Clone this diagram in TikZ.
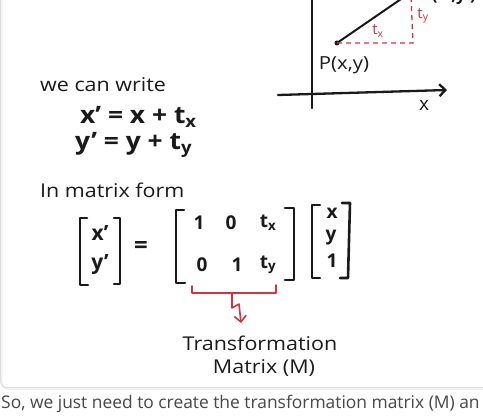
\documentclass[tikz,border=0pt]{standalone}
\usepackage{fontspec}
\setmainfont{Open Sans}
\usetikzlibrary{arrows.meta}
\definecolor{hred}{HTML}{D1343F}
\definecolor{ink}{HTML}{1A1A1A}
\definecolor{captxt}{HTML}{474747}
\newcommand{\hw}[1]{\scalebox{1.13}[1]{#1}}
\newcommand{\ew}[1]{\scalebox{1.1}[1]{#1}}
\begin{document}
\begin{tikzpicture}[x=1pt,y=-1pt,
 hand/.style={font=\fontsize{19}{21}\selectfont, text=ink, inner sep=0pt},
 eq/.style={font=\fontsize{24}{26}\selectfont\bfseries, text=ink, inner sep=0pt},
 ent/.style={font=\fontsize{19}{21}\selectfont\bfseries, text=ink, inner sep=0pt},
 redlbl/.style={font=\fontsize{15}{16}\selectfont, text=hred, inner sep=0pt},
 stroke/.style={line width=2.3pt, draw=ink, line cap=round, line join=round},
 brk/.style={line width=2.6pt, draw=ink, line cap=round, line join=round},
 reddash/.style={draw=hred, line width=1.3pt, dash pattern=on 5pt off 4pt},
 redline/.style={draw=hred, line width=1.6pt, line cap=round, line join=round},
 barb/.style={-{Straight Barb[length=6pt,width=12pt]}},
]
\useasboundingbox (0,0) rectangle (483,420);
\fill[white] (0,0) rectangle (483,420);
\begin{scope}
\clip (0,0) rectangle (483,420);
% card edge and shadow
\draw[black!6, line width=2pt, rounded corners=7pt] (1.5,-10) -- (1.5,389) -- (495,389);
\draw[black!13, line width=0.8pt, rounded corners=6pt] (0.6,-10) -- (0.6,387.5) -- (495,387.5);
% axes
\coordinate (yt) at (312,-3);
\coordinate (yb) at (312,108);
\draw[stroke] (yt) -- (yb);
\coordinate (xl) at (278,95);
\coordinate (xr) at (447,90);
\draw[stroke, barb] (xl) -- (xr);
\node[hand] (xlab) at (424,105) {x};
% point P and moved line
\node[circle, fill=ink, inner sep=0pt, minimum size=5pt] (P) at (337,43) {};
\coordinate (Pp) at (404,-3);
\draw[stroke, line width=2pt] (P.center) -- (Pp);
\coordinate (C) at (413,43);
\coordinate (Ct) at (411,-3);
\draw[reddash] (P.center) -- (C) -- (Ct);
\node[redlbl] (tx) at (378,31) {t\textsubscript{x}};
\node[redlbl] (ty) at (423,16) {t\textsubscript{y}};
\node[hand, font=\fontsize{18}{20}\selectfont] (plab) at (344,65) {\hw{P(x,y)}};
\node[hand, font=\fontsize{17}{19}\selectfont\bfseries] (pplab) at (454,-4) {(x',y')};
% left texts
\node[hand, anchor=west] (w1) at (40,85) {\hw{we can write}};
\node[eq, anchor=west] (e1) at (80,117) {\ew{x' = x + t\textsubscript{x}}};
\node[eq, anchor=west] (e2) at (75,145) {\ew{y' = y + t\textsubscript{y}}};
\node[hand, anchor=west] (w2) at (40,190) {\hw{In matrix form}};
% vector x', y'
\draw[brk] (87,218) -- (80,218) -- (80,285) -- (88,285);
\draw[brk] (114,218) -- (120,218) -- (120,284) -- (114,284);
\node[ent, font=\fontsize{21}{23}\selectfont\bfseries] (vx) at (100,233) {x'};
\node[ent, font=\fontsize{21}{23}\selectfont\bfseries] (vy) at (100,265) {y'};
\node[eq] (eqs) at (141,248) {=};
% matrix M
\draw[brk] (184,210) -- (176,210) -- (176,283) -- (185,283);
\draw[brk] (285,208) -- (294,208) -- (294,280) -- (285,280);
\node[ent] (m11) at (199,223) {1};
\node[ent] (m12) at (231,223) {0};
\node[ent] (m13) at (268,223) {t\textsubscript{x}};
\node[ent] (m21) at (202,265) {0};
\node[ent] (m22) at (237,265) {1};
\node[ent] (m23) at (268,265) {t\textsubscript{y}};
% column x y 1
\draw[brk] (320,205) -- (312,205) -- (312,278) -- (320,278);
\draw[brk] (342,203) -- (350,203) -- (348,278) -- (340,278);
\node[ent] (c1) at (332,213) {x};
\node[ent] (c2) at (331,238) {y};
\node[ent] (c3) at (332,261) {1};
% red brace
\coordinate (bl) at (192,286);
\coordinate (bl2) at (192,293);
\coordinate (br2) at (276,293);
\coordinate (br) at (276,285);
\draw[redline] (bl) -- (bl2) -- (br2) -- (br);
\coordinate (bm) at (232,293);
\coordinate (z1) at (232,308);
\coordinate (z2) at (239,304);
\coordinate (z3) at (241,323);
\draw[redline, barb] (bm) -- (z1) -- (z2) -- (z3);
\node[hand] (t1) at (260,343) {\hw{Transformation}};
\node[hand] (t2) at (264,368) {\hw{Matrix (M)}};
% caption below card
\node[anchor=west, inner sep=0pt, text=captxt, font=\fontsize{17.4}{19}\selectfont] (cap) at (1,404) {So, we just need to create the transformation matrix (M) an};
\end{scope}
\end{tikzpicture}
\end{document}
